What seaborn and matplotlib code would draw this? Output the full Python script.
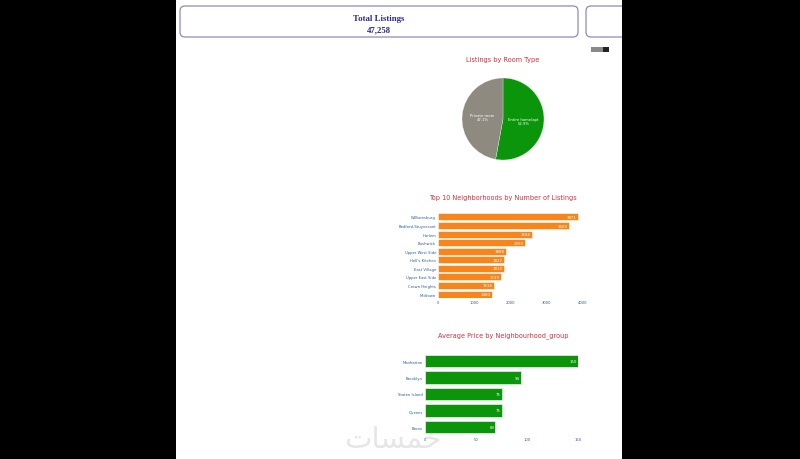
import matplotlib.pyplot as plt
import matplotlib.patches as mpatches
import numpy as np
import pandas as pd
import seaborn as sns

### data ###
total_listings = 47258

room_types = ["Entire home/apt", "Private room"]
room_share = [52.9, 47.1]

neighbourhoods = ["Williamsburg", "Bedford-Stuyvesant", "Harlem", "Bushwick",
                  "Upper West Side", "Hell's Kitchen", "East Village",
                  "Upper East Side", "Crown Heights", "Midtown"]
listing_counts = [3871, 3609, 2594, 2392, 1888, 1827, 1812, 1729, 1534, 1480]

groups = ["Manhattan", "Brooklyn", "Staten Island", "Queens", "Bronx"]
avg_price = [150, 94, 75, 75, 69]

### style ###
sns.set_style("white")
plt.rcParams["font.family"] = ["DejaVu Sans"]

W, H = 800, 460
title_red = "#d0313d"
tick_blue = "#2a5ca8"
orange = "#f8851c"
green = "#0a950a"
grey = "#8f8a80"


def px_axes(fig, x0, y0, x1, y1):
    # axes placed by pixel box (top-left origin)
    return fig.add_axes([x0 / W, 1 - y1 / H, (x1 - x0) / W, (y1 - y0) / H])


fig = plt.figure(figsize=(8, 4.6), dpi=100)
fig.patch.set_facecolor("black")

# page background, cards, watermark
bg = fig.add_axes([0, 0, 1, 1])
bg.set_xlim(0, W)
bg.set_ylim(H, 0)
bg.axis("off")
bg.add_patch(mpatches.Rectangle((176, 0), 446, H, facecolor="white", edgecolor="none"))
bg.add_patch(mpatches.FancyBboxPatch((180, 7), 398, 31, boxstyle="round,pad=0,rounding_size=5",
                                     facecolor="white", edgecolor="#8d8cb8", linewidth=0.9))
bg.add_patch(mpatches.FancyBboxPatch((586, 7), 60, 31, boxstyle="round,pad=0,rounding_size=5",
                                     facecolor="white", edgecolor="#8d8cb8", linewidth=0.9))
bg.add_patch(mpatches.Rectangle((622, 0), 178, H, facecolor="black", edgecolor="none"))
bg.text(379, 19, "Total Listings", ha="center", va="center", fontsize=6.3,
        fontweight="bold", family="Liberation Serif", color="#2c2a8e")
bg.text(379, 30.5, f"{total_listings:,}", ha="center", va="center", fontsize=6.3,
        fontweight="bold", family="Liberation Serif", color="#2c2a8e")
bg.add_patch(mpatches.Rectangle((591, 48), 12, 5, facecolor="#8a8a8a", edgecolor="none"))
bg.add_patch(mpatches.Rectangle((603, 48), 6, 5, facecolor="#222222", edgecolor="none"))
bg.text(393, 440, "\uFE95\uFE8E\uFEB4\uFEE4\uFEA7", ha="center", va="center",
        fontsize=21, color="#e6e6e6", family="DejaVu Sans", zorder=2)

# titles
bg.text(503, 60, "Listings by Room Type", ha="center", va="center", fontsize=4.7, color=title_red)
bg.text(503, 198, "Top 10 Neighborhoods by Number of Listings", ha="center", va="center",
        fontsize=4.7, color=title_red)
bg.text(503, 336, "Average Price by Neighbourhood_group", ha="center", va="center",
        fontsize=4.7, color=title_red)

### pie ###
ax1 = px_axes(fig, 462, 79, 544, 161)
wedges, texts = ax1.pie(room_share, colors=[green, grey], startangle=90, counterclock=False,
                        wedgeprops=dict(edgecolor="white", linewidth=0.2))
for w, name, share in zip(wedges, room_types, room_share):
    ang = np.deg2rad((w.theta1 + w.theta2) / 2)
    ax1.text(0.5 * np.cos(ang), 0.5 * np.sin(ang), f"{name}\n{share}%", ha="center",
             va="center", fontsize=2.7, color="white")
ax1.set_xlim(-1, 1)
ax1.set_ylim(-1, 1)
ax1.set_aspect("auto")
ax1.axis("off")

### top neighbourhoods ###
df_n = pd.DataFrame({"neighbourhood": neighbourhoods, "listings": listing_counts})
ax2 = px_axes(fig, 438, 213.7, 583, 299.3)
sns.barplot(data=df_n, x="listings", y="neighbourhood", orient="h", color=orange,
            saturation=1, width=0.82, edgecolor="white", linewidth=0.4, ax=ax2)
ax2.set_xlim(0, 4000)
ax2.set_xticks([0, 1000, 2000, 3000, 4000])
for i, v in enumerate(listing_counts):
    ax2.text(v - 40, i, str(v), ha="right", va="center", fontsize=2.8, color="white")

### avg price ###
df_p = pd.DataFrame({"group": groups, "price": avg_price})
ax3 = px_axes(fig, 425, 353.75, 578, 436.25)
sns.barplot(data=df_p, x="price", y="group", orient="h", color=green,
            saturation=1, width=0.76, edgecolor="white", linewidth=0.4, ax=ax3)
ax3.set_xlim(0, 150)
ax3.set_xticks([0, 50, 100, 150])
for i, v in enumerate(avg_price):
    ax3.text(v - 1.2, i, str(v), ha="right", va="center", fontsize=2.8, color="white")

for ax in (ax2, ax3):
    ax.set_xlabel("")
    ax.set_ylabel("")
    ax.patch.set_alpha(0)
    sns.despine(ax=ax, left=True, bottom=True)
    ax.tick_params(axis="both", length=0, labelsize=2.7, labelcolor=tick_blue, pad=1.5)

fig.savefig("out.png", dpi=100, facecolor=fig.get_facecolor())
